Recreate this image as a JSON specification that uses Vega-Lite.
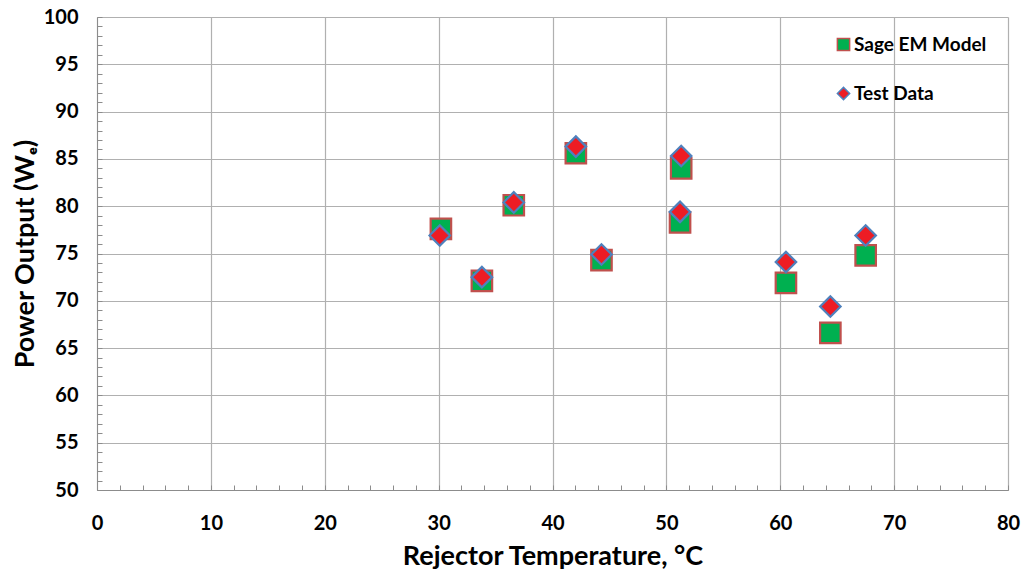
{
  "$schema": "https://vega.github.io/schema/vega-lite/v6.json",
  "width": 911,
  "height": 473,
  "autosize": "none",
  "padding": {"left": 97, "top": 17, "right": 15, "bottom": 85},
  "background": "white",
  "config": {
    "font": "Lato",
    "view": {"stroke": null}
  },
  "data": {
    "values": [
      {"series": "Sage EM Model", "x": 30.2, "y": 77.6},
      {"series": "Sage EM Model", "x": 33.8, "y": 72.1},
      {"series": "Sage EM Model", "x": 36.6, "y": 80.1},
      {"series": "Sage EM Model", "x": 42.05, "y": 85.6},
      {"series": "Sage EM Model", "x": 44.3, "y": 74.3},
      {"series": "Sage EM Model", "x": 51.3, "y": 84.0},
      {"series": "Sage EM Model", "x": 51.2, "y": 78.3},
      {"series": "Sage EM Model", "x": 60.5, "y": 71.9},
      {"series": "Sage EM Model", "x": 64.4, "y": 66.6},
      {"series": "Sage EM Model", "x": 67.5, "y": 74.8},
      {"series": "Test Data", "x": 30.1, "y": 76.9},
      {"series": "Test Data", "x": 33.8, "y": 72.5},
      {"series": "Test Data", "x": 36.6, "y": 80.4},
      {"series": "Test Data", "x": 42.05, "y": 86.3},
      {"series": "Test Data", "x": 44.3, "y": 74.9},
      {"series": "Test Data", "x": 51.3, "y": 85.3},
      {"series": "Test Data", "x": 51.2, "y": 79.4},
      {"series": "Test Data", "x": 60.5, "y": 74.1},
      {"series": "Test Data", "x": 64.4, "y": 69.4},
      {"series": "Test Data", "x": 67.5, "y": 76.9}
    ]
  },
  "mark": {"type": "point", "filled": true, "size": 420, "strokeWidth": 2.2, "opacity": 1},
  "encoding": {
    "x": {
      "field": "x", "type": "quantitative",
      "scale": {"domain": [0, 80], "nice": false, "zero": false},
      "axis": {
        "title": "Rejector Temperature, °C",
        "titleFontSize": 27, "titleFontWeight": "bold", "titleColor": "#000000", "titlePadding": 10,
        "values": [0,2,4,6,8,10,12,14,16,18,20,22,24,26,28,30,32,34,36,38,40,42,44,46,48,50,52,54,56,58,60,62,64,66,68,70,72,74,76,78,80],
        "labelExpr": "datum.value % 10 === 0 ? datum.label : ''",
        "labelFlush": false,
        "labelFontSize": 20, "labelFontWeight": "bold", "labelColor": "#000000", "labelPadding": 28,
        "tickSize": -5, "tickColor": "#8c8c8c", "domainColor": "#8c8c8c",
        "grid": true, "gridColor": "#b0b0b0", "gridWidth": 1.2,
        "gridOpacity": {"condition": {"test": "datum.value % 10 === 0", "value": 1}, "value": 0}
      }
    },
    "y": {
      "field": "y", "type": "quantitative",
      "scale": {"domain": [50, 100], "nice": false, "zero": false},
      "axis": {
        "title": "Power Output (Wₑ)",
        "titleFontSize": 27, "titleFontWeight": "bold", "titleColor": "#000000", "titlePadding": 4,
        "values": [50,51,52,53,54,55,56,57,58,59,60,61,62,63,64,65,66,67,68,69,70,71,72,73,74,75,76,77,78,79,80,81,82,83,84,85,86,87,88,89,90,91,92,93,94,95,96,97,98,99,100],
        "labelExpr": "datum.value % 5 === 0 ? datum.label : ''",
        "labelFlush": false,
        "labelFontSize": 20, "labelFontWeight": "bold", "labelColor": "#000000", "labelPadding": 24,
        "tickSize": -5, "tickColor": "#8c8c8c", "domainColor": "#8c8c8c",
        "grid": true, "gridColor": "#b0b0b0", "gridWidth": 1.2,
        "gridOpacity": {"condition": {"test": "datum.value % 5 === 0", "value": 1}, "value": 0}
      }
    },
    "shape": {
      "field": "series", "type": "nominal",
      "scale": {"domain": ["Sage EM Model", "Test Data"], "range": ["square", "diamond"]},
      "legend": {
        "title": null, "orient": "none", "legendX": 737, "legendY": 18,
        "labelFontSize": 19, "labelFontWeight": "bold", "labelColor": "#000000",
        "symbolSize": 150, "symbolStrokeWidth": 1.5, "rowPadding": 29, "labelOffset": 1
      }
    },
    "fill": {
      "field": "series", "type": "nominal",
      "scale": {"domain": ["Sage EM Model", "Test Data"], "range": ["#00b050", "#ed1c24"]},
      "legend": null
    },
    "stroke": {
      "field": "series", "type": "nominal",
      "scale": {"domain": ["Sage EM Model", "Test Data"], "range": ["#c0504d", "#4f81bd"]},
      "legend": null
    }
  }
}
